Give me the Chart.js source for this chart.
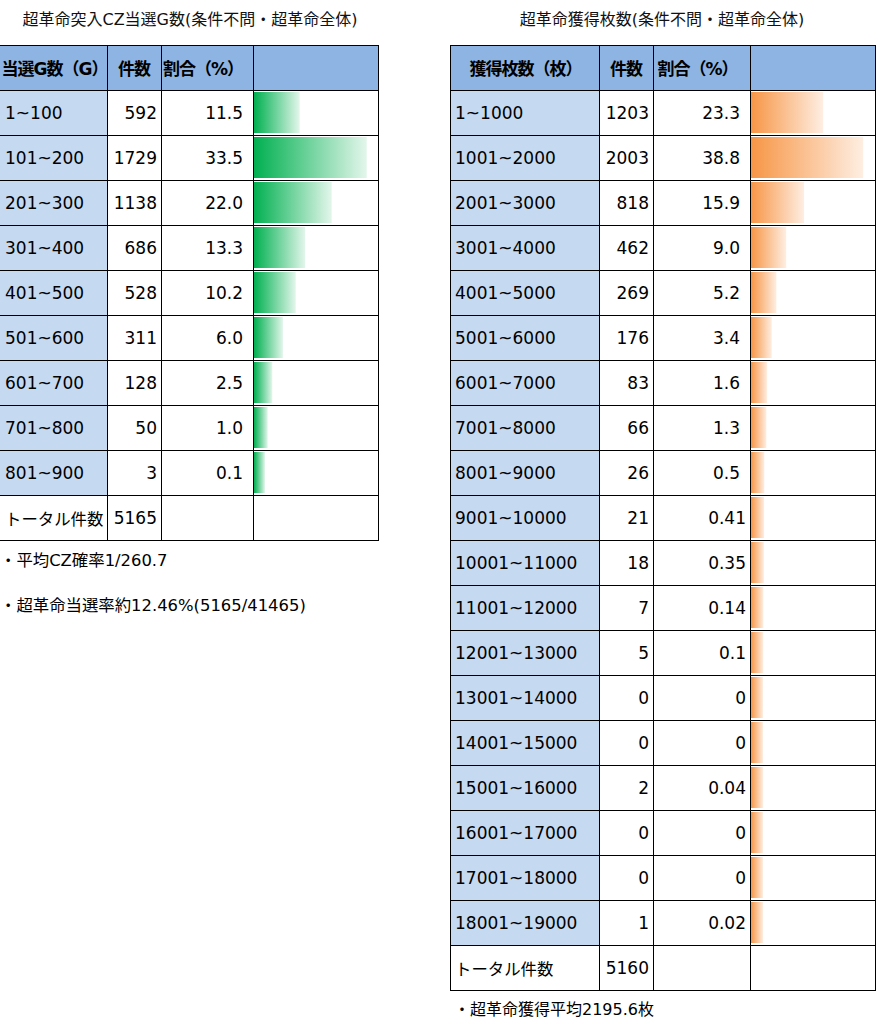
<!DOCTYPE html>
<html><head><meta charset="utf-8">
<script src="https://cdn.jsdelivr.net/npm/chart.js@4.4.1/dist/chart.umd.min.js"></script>
<style>
html,body{margin:0;padding:0;background:#fff;}
#root{position:relative;width:876px;height:1036px;overflow:hidden;font-family:"DejaVu Sans","Noto Sans CJK JP",sans-serif;font-size:16px;color:#000;}
.c{position:absolute;display:flex;align-items:center;box-sizing:border-box;white-space:nowrap;font-size:17px;}
.ln{position:absolute;background:#000;z-index:5;}
.t{position:absolute;white-space:nowrap;line-height:20px;}
.cv{position:absolute;z-index:3;}
</style></head><body><div id="root"></div>
<script>
// ---------- data ----------
const leftTitle = '超革命突入CZ当選G数(条件不問・超革命全体)';
const leftHeaders = ['当選G数（G）', '件数', '割合（%）', ''];
const leftCats = ['1~100','101~200','201~300','301~400','401~500','501~600','601~700','701~800','801~900'];
const leftCounts = [592, 1729, 1138, 686, 528, 311, 128, 50, 3];
const leftPct = [11.5, 33.5, 22.0, 13.3, 10.2, 6.0, 2.5, 1.0, 0.1];
const leftTotalLabel = 'トータル件数';
const leftTotal = 5165;
const leftNotes = ['・平均CZ確率1/260.7', '・超革命当選率約12.46%(5165/41465)'];

const rightTitle = '超革命獲得枚数(条件不問・超革命全体)';
const rightHeaders = ['獲得枚数（枚）', '件数', '割合（%）', ''];
const rightCats = ['1~1000','1001~2000','2001~3000','3001~4000','4001~5000','5001~6000','6001~7000','7001~8000','8001~9000','9001~10000','10001~11000','11001~12000','12001~13000','13001~14000','14001~15000','15001~16000','16001~17000','17001~18000','18001~19000'];
const rightCounts = [1203, 2003, 818, 462, 269, 176, 83, 66, 26, 21, 18, 7, 5, 0, 0, 2, 0, 0, 1];
const rightPct = [23.3, 38.8, 15.9, 9.0, 5.2, 3.4, 1.6, 1.3, 0.5, 0.41, 0.35, 0.14, 0.1, 0, 0, 0.04, 0, 0, 0.02];
const rightTotalLabel = 'トータル件数';
const rightTotal = 5160;
const rightNotes = ['・超革命獲得平均2195.6枚'];

// ---------- drawing ----------
const root = document.getElementById('root');
const HEAD_BG = '#8DB4E2', LABEL_BG = '#C5D9F1';

function div(cls, x, y, w, h, css) {
  const d = document.createElement('div');
  d.className = cls;
  d.style.left = x + 'px'; d.style.top = y + 'px';
  if (w != null) d.style.width = w + 'px';
  if (h != null) d.style.height = h + 'px';
  if (css) Object.assign(d.style, css);
  root.appendChild(d);
  return d;
}
function text(cls, x, y, w, h, str, css) {
  const d = div(cls, x, y, w, h, css);
  d.textContent = str;
  return d;
}

function buildTable(cfg) {
  const xs = cfg.xs, top = 45, rh = 45;
  const nRows = cfg.cats.length + 2;
  // title
  text('t', cfg.titleX - 250, 10, 500, null, cfg.title, {textAlign: 'center', color: '#111'});
  // header
  for (let c = 0; c < 4; c++) {
    text('c', xs[c], top, xs[c + 1] - xs[c], rh, cfg.headers[c], {
      background: HEAD_BG, fontWeight: 'bold', justifyContent: 'center', letterSpacing: '-1px',
      paddingRight: c === 2 ? '8px' : '0', paddingLeft: c === 0 ? '2px' : '0'
    });
  }
  // rows
  cfg.cats.forEach((cat, i) => {
    const y = top + rh * (i + 1);
    text('c', xs[0], y, xs[1] - xs[0], rh, cat, {background: LABEL_BG, paddingLeft: '5px'});
    text('c', xs[1], y, xs[2] - xs[1], rh, String(cfg.counts[i]), {justifyContent: 'flex-end', paddingRight: '4px'});
    text('c', xs[2], y, xs[3] - xs[2], rh, cfg.fmt(cfg.pct[i], i), {justifyContent: 'flex-end', paddingRight: cfg.pad(i) + 'px'});
  });
  const ty = top + rh * (cfg.cats.length + 1);
  text('c', xs[0], ty, xs[1] - xs[0], rh, cfg.totalLabel, {paddingLeft: '5px', fontSize: '16.4px'});
  text('c', xs[1], ty, xs[2] - xs[1], rh, String(cfg.total), {justifyContent: 'flex-end', paddingRight: '4px'});
  // grid lines
  for (let r = 0; r <= nRows; r++) div('ln', xs[0], top + rh * r, xs[4] - xs[0] + 1, 1);
  for (let c = cfg.leftBorder ? 0 : 1; c < xs.length; c++) div('ln', xs[c], top, 1, rh * nRows + 1);
  // notes
  cfg.notes.forEach((n, k) => text('t', cfg.noteX, cfg.noteY[k] - 10, null, null, n, {fontSize: cfg.noteSize}));

  // data bars via Chart.js
  const cx = xs[3] + 1, cy = top + rh, cw = xs[4] - xs[3] - 1, ch = rh * cfg.cats.length;
  const wrap = div('cv', cx, cy, cw, ch);
  const cv = document.createElement('canvas');
  cv.width = cw; cv.height = ch;
  cv.style.width = cw + 'px'; cv.style.height = ch + 'px';
  wrap.appendChild(cv);
  const mn = cfg.min, mx = cfg.max;
  new Chart(cv, {
    type: 'bar',
    data: {
      labels: cfg.cats,
      datasets: [{
        data: cfg.pct,
        base: mn,
        borderWidth: 0,
        barPercentage: 0.91,
        categoryPercentage: 1,
        backgroundColor: (c) => {
          const chart = c.chart, xsc = chart.scales && chart.scales.x;
          if (!xsc || c.type !== 'data' || typeof c.raw !== 'number') return cfg.c0;
          const x0 = xsc.getPixelForValue(mn), x1 = xsc.getPixelForValue(c.raw);
          if (!isFinite(x0) || !isFinite(x1) || x1 <= x0) return cfg.c0;
          const g = chart.ctx.createLinearGradient(x0, 0, x1, 0);
          g.addColorStop(0, cfg.c0);
          g.addColorStop(1, cfg.c1);
          return g;
        }
      }]
    },
    options: {
      indexAxis: 'y',
      responsive: false,
      animation: false,
      events: [],
      layout: {padding: 0},
      plugins: {legend: {display: false}, tooltip: {enabled: false}},
      scales: {
        x: {display: false, min: mn, max: mx},
        y: {display: false}
      }
    }
  });
}

buildTable({
  xs: [0, 107, 161, 253, 378], leftBorder: false,
  title: leftTitle, titleX: 190,
  headers: leftHeaders, cats: leftCats, counts: leftCounts, pct: leftPct,
  fmt: (v) => v.toFixed(1), pad: () => 10,
  totalLabel: leftTotalLabel, total: leftTotal,
  notes: leftNotes, noteX: 0, noteY: [561, 606], noteSize: '16.4px',
  min: -3.5, max: 37.2, c0: '#00B050', c1: '#E3F6EB'
});
buildTable({
  xs: [450, 599, 653, 750, 875], leftBorder: true,
  title: rightTitle, titleX: 662,
  headers: rightHeaders, cats: rightCats, counts: rightCounts, pct: rightPct,
  fmt: (v, i) => i < 9 ? v.toFixed(1) : String(v), pad: (i) => i < 9 ? 10 : 4,
  totalLabel: rightTotalLabel, total: rightTotal,
  notes: rightNotes, noteX: 454, noteY: [1010], noteSize: '16px',
  min: -4.65, max: 43.4, c0: '#F79646', c1: '#FEEEE2'
});
</script>
</body></html>
